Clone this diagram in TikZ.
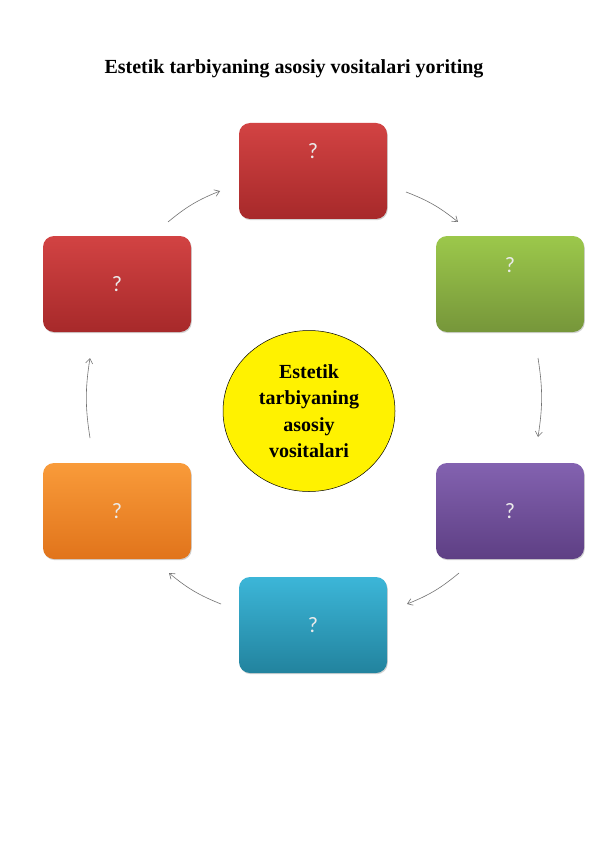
\documentclass[tikz,border=0pt]{standalone}
\usepackage{fontspec}
\setmainfont{Liberation Serif}
\newfontfamily\boxfont{Carlito}
\usepackage{tikz}
\usetikzlibrary{arrows.meta}
\usetikzlibrary{shapes.geometric,shadows}
\definecolor{redtop}{HTML}{D24343}
\definecolor{redbot}{HTML}{A7292A}
\definecolor{greentop}{HTML}{9CC84B}
\definecolor{greenbot}{HTML}{76963A}
\definecolor{orangetop}{HTML}{F99B3A}
\definecolor{orangebot}{HTML}{E1741B}
\definecolor{purpletop}{HTML}{8362B0}
\definecolor{purplebot}{HTML}{5E3F84}
\definecolor{bluetop}{HTML}{3CB6D8}
\definecolor{bluebot}{HTML}{22839E}
\tikzset{
    box/.style={
        rounded corners=11pt,
        minimum width=148pt,
        minimum height=96pt,
        drop shadow={shadow xshift=0.8pt,shadow yshift=-1.2pt,opacity=0.35}
    },
    redbox/.style={box,top color=redtop,bottom color=redbot},
    greenbox/.style={box,top color=greentop,bottom color=greenbot},
    orangebox/.style={box,top color=orangetop,bottom color=orangebot},
    purplebox/.style={box,top color=purpletop,bottom color=purplebot},
    bluebox/.style={box,top color=bluetop,bottom color=bluebot},
    qmark/.style={
        text=white!92!black,
        font=\boxfont\fontsize{22}{24}\selectfont
    },
    link/.style={
        draw=black!55,
        line width=0.6pt,
        -{Straight Barb[length=5pt,width=7pt]}
    }
}

\begin{document}
\begin{tikzpicture}[x=1pt,y=-1pt]
  \useasboundingbox[fill=white] (0,0) rectangle (596,842);
  \node[font=\bfseries\fontsize{20}{22}\selectfont] (title) at (294,69)
    {Estetik tarbiyaning asosiy vositalari yoriting};
  % boxes round the centre
  \node[redbox] (top) at (313,171) {};
  \node[greenbox] (rightup) at (510,284) {};
  \node[purplebox] (rightdown) at (510,511) {};
  \node[bluebox] (bottom) at (313,625) {};
  \node[orangebox] (leftdown) at (117,511) {};
  \node[redbox] (leftup) at (117,284) {};
  \node[qmark] at ([yshift=20pt]top.center) {?};
  \node[qmark] at ([yshift=19pt]rightup.center) {?};
  \node[qmark] at (rightdown.center) {?};
  \node[qmark] at (bottom.center) {?};
  \node[qmark] at (leftdown.center) {?};
  \node[qmark] at (leftup.center) {?};
  \node[ellipse,draw=black,line width=0.5pt,fill=yellow,
        minimum width=172pt,minimum height=161pt,align=center,
        font=\bfseries\fontsize{20}{26.5}\selectfont] (centre) at (309,411)
    {Estetik\\tarbiyaning\\asosiy\\vositalari};
  % arrows
  \foreach \n/\x/\y in {la/168/222,lb/220/191,ra/406/192,rb/458/222,
                        sa/538/358,sb/538/437,da/459/573,db/407/604,
                        ea/221/604,eb/169/573,wa/90/438,wb/90/358}
    \coordinate (\n) at (\x,\y);
  \foreach \s/\t in {la/lb,ra/rb,sa/sb,da/db,ea/eb,wa/wb}
    \draw[link] (\s) to[bend left=9] (\t);
\end{tikzpicture}
\end{document}
